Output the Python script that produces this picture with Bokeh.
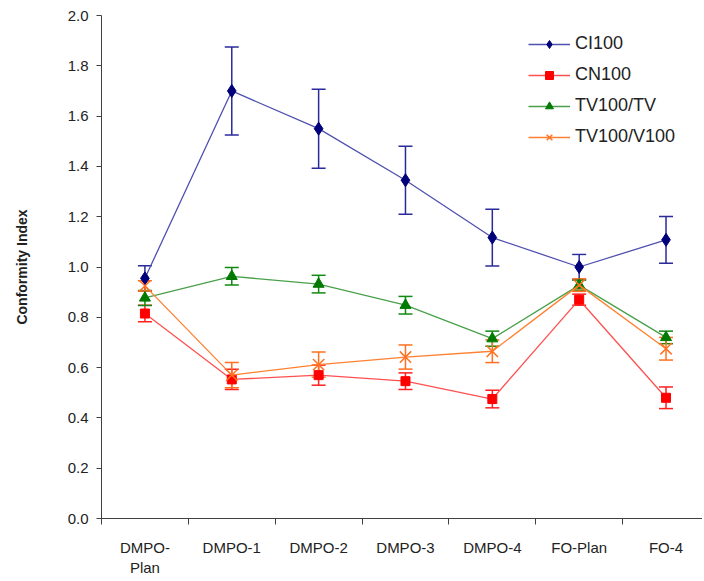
from bokeh.plotting import figure
from bokeh.models import (ColumnDataSource, Whisker, TeeHead, FixedTicker, Legend,
                          LegendItem, Range1d)
from bokeh.embed import file_html
from bokeh.resources import INLINE

categories = ["DMPO-\nPlan", "DMPO-1", "DMPO-2", "DMPO-3", "DMPO-4", "FO-Plan", "FO-4"]
y_ticks = [0.0, 0.2, 0.4, 0.6, 0.8, 1.0, 1.2, 1.4, 1.6, 1.8, 2.0]

ci100 = [0.955, 1.70, 1.55, 1.345, 1.117, 1.0, 1.108]
ci100_err = [0.05, 0.175, 0.157, 0.135, 0.113, 0.05, 0.093]
cn100 = [0.815, 0.553, 0.570, 0.546, 0.475, 0.870, 0.480]
cn100_err = [0.033, 0.04, 0.04, 0.033, 0.035, 0.022, 0.043]
tv_tv = [0.877, 0.963, 0.932, 0.848, 0.715, 0.928, 0.720]
tv_tv_err = [0.03, 0.035, 0.035, 0.035, 0.03, 0.02, 0.025]
tv_v100 = [0.925, 0.570, 0.612, 0.642, 0.665, 0.928, 0.675]
tv_v100_err = [0.02, 0.05, 0.05, 0.048, 0.045, 0.025, 0.045]

series = [
    ("CI100", ci100, ci100_err, "#5050b0", "#00007a", "#2a2a9a", "diamond", 13),
    ("CN100", cn100, cn100_err, "#ff5050", "#ff0000", "#ff2020", "square", 9),
    ("TV100/TV", tv_tv, tv_tv_err, "#4aa04a", "#007a00", "#108a10", "triangle", 11),
    ("TV100/V100", tv_v100, tv_v100_err, "#ff8030", "#ff7020", "#ff7020", "x", 16),
]

xs = list(range(1, len(categories) + 1))

p = figure(width=702, height=578, output_backend="svg", toolbar_location=None,
           x_range=Range1d(0.5, 7.42), y_range=Range1d(0, 2.0),
           min_border_left=101, min_border_right=0, min_border_top=15, min_border_bottom=57)
p.outline_line_color = None
p.xgrid.visible = False
p.ygrid.visible = False

font = "Liberation Sans"
axis_col = "#404040"

p.xaxis.ticker = FixedTicker(ticks=xs, minor_ticks=[x - 0.5 for x in xs])
p.xaxis.major_label_overrides = {x: c for x, c in zip(xs, categories)}
p.xaxis.major_tick_out = 0
p.xaxis.major_tick_in = 0
p.xaxis.minor_tick_out = 6
p.xaxis.minor_tick_in = 0
p.xaxis.minor_tick_line_color = axis_col
p.xaxis.major_label_standoff = 14

p.yaxis.ticker = FixedTicker(ticks=y_ticks)
p.yaxis.major_label_overrides = {t: f"{t:.1f}" for t in y_ticks}
p.yaxis.major_tick_out = 5
p.yaxis.major_tick_in = 0
p.yaxis.minor_tick_line_color = None
p.yaxis.major_label_standoff = 8
p.yaxis.axis_label = "Conformity Index"
p.yaxis.axis_label_text_font_style = "bold"
p.yaxis.axis_label_text_font_size = "14px"
p.yaxis.axis_label_standoff = 35

for ax in (p.xaxis, p.yaxis):
    ax.axis_line_color = axis_col
    ax.major_tick_line_color = axis_col
    ax.major_label_text_font = font
    ax.major_label_text_font_size = "15px"
    ax.major_label_text_color = "#222222"
    ax.axis_label_text_font = font
    ax.axis_label_text_color = "#222222"

items = []
for name, vals, errs, lcol, mcol, ecol, marker, size in series:
    src = ColumnDataSource(dict(x=xs, y=vals,
                                lo=[v - e for v, e in zip(vals, errs)],
                                hi=[v + e for v, e in zip(vals, errs)]))
    w = Whisker(source=src, base="x", lower="lo", upper="hi", dimension="height",
                line_color=ecol, line_width=1.5,
                lower_head=TeeHead(size=14, line_color=ecol, line_width=1.5),
                upper_head=TeeHead(size=14, line_color=ecol, line_width=1.5))
    p.add_layout(w)
    r1 = p.line("x", "y", source=src, line_color=lcol, line_width=1.3)
    if marker == "x":
        r2 = p.scatter("x", "y", source=src, marker="x", size=size, line_color=mcol, line_width=1.5)
    else:
        r2 = p.scatter("x", "y", source=src, marker=marker, size=size,
                       fill_color=mcol, line_color=mcol)
    items.append(LegendItem(label=name, renderers=[r1, r2]))

legend = Legend(items=items, location=(427, 371), border_line_color=None,
                background_fill_alpha=0, glyph_width=42, glyph_height=20,
                label_height=20, spacing=10, padding=10, label_standoff=5,
                label_text_font=font, label_text_font_size="18px",
                label_text_color="#222222")
p.add_layout(legend)

open("out.html", "w").write(file_html(p, INLINE))
